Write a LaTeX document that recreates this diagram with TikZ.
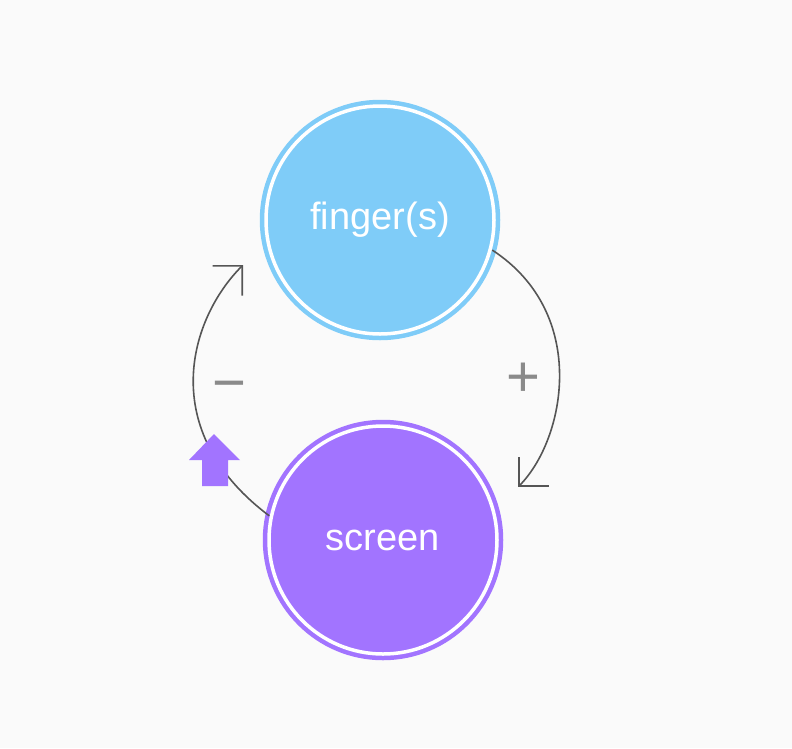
\documentclass[tikz,border=0pt]{standalone}
\usepackage{fontspec}
\setmainfont{Liberation Sans}
\usetikzlibrary{arrows.meta}
\definecolor{bgcol}{HTML}{FAFAFA}
\definecolor{fingerblue}{HTML}{7FCCF8}
\definecolor{screenpurple}{HTML}{A274FF}
\definecolor{arcgray}{HTML}{555555}
\definecolor{signgray}{HTML}{8A8A8A}
\tikzset{
  ringnode/.style={draw=#1, fill=#1, circle, double=white, double distance=3.5pt,
    line width=4.5pt, minimum size=228pt, inner sep=0pt, text=white,
    font=\fontsize{38}{40}\selectfont},
  loopline/.style={draw=arcgray, line width=1.6pt,
    -{Straight Barb[length=21pt, width=42pt, line width=1.6pt]}},
  signlabel/.style={text=signgray, font=\fontsize{58}{60}\selectfont}
}
\begin{document}
\begin{tikzpicture}[x=1pt, y=-1pt]
    % Canvas
    \fill[bgcol] (0,0) rectangle (792,748);
    \useasboundingbox (0,0) rectangle (792,748);

    % Finger Circle
    \node[ringnode=fingerblue] (finger) at (380,220) {finger(s)};

    % Screen Circle
    \node[ringnode=screenpurple] (screen) at (383,540) {screen};

    % Loop ends
    \coordinate (plusend) at (518,487);
    \coordinate (minusend) at (243,265);

    % Connections
    \draw[loopline] (finger.-15) .. controls (590,314) and (565,440) .. (plusend);
    \draw[loopline] (screen.168) .. controls (155,430) and (190,318) .. (minusend);

    % Labels
    \node[signlabel] (plus) at (523,380) {+};
    \node[signlabel] (minus) at (229,392) {−};

    % Push marker
    \fill[screenpurple] (214,434) -- (240,460) -- (228,460) -- (228,486)
        -- (202,486) -- (202,460) -- (189,460) -- cycle;
\end{tikzpicture}
\end{document}
